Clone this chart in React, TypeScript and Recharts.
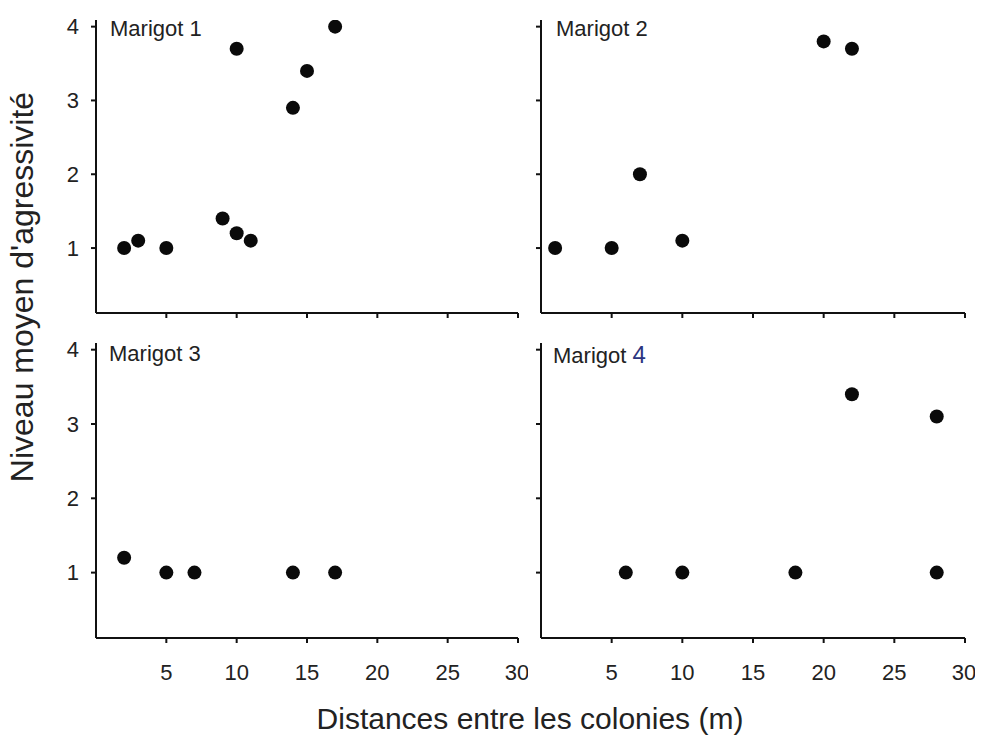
import React from 'react';
import { ScatterChart, Scatter, XAxis, YAxis } from 'recharts';

const xTicks = [5, 10, 15, 20, 25, 30];
const yTicks = [1, 2, 3, 4];
const panelTitles = ['Marigot 1', 'Marigot 2', 'Marigot 3', 'Marigot '];

const m1Distance = [2, 3, 5, 9, 10, 11, 10, 14, 15, 17];
const m1Aggressivity = [1, 1.1, 1, 1.4, 1.2, 1.1, 3.7, 2.9, 3.4, 4];

const m2Distance = [1, 5, 7, 10, 20, 22];
const m2Aggressivity = [1, 1, 2, 1.1, 3.8, 3.7];

const m3Distance = [2, 5, 7, 14, 17];
const m3Aggressivity = [1.2, 1, 1, 1, 1];

const m4Distance = [6, 10, 18, 28, 22, 28];
const m4Aggressivity = [1, 1, 1, 1, 3.4, 3.1];

const build = (xs: number[], ys: number[]) => xs.map((x, i) => ({ x, y: ys[i] }));

const FONT = '"Liberation Sans", Arial, Helvetica, sans-serif';
const AXIS = '#111';
const TEXT = '#222';

const Dot = (props: any) => <circle cx={props.cx} cy={props.cy} r={7} fill="#0a0a0a" />;

type PanelProps = {
  data: { x: number; y: number }[];
  left: number;
  top: number;
  width: number;
  height: number;
  showYLabels: boolean;
  showXLabels: boolean;
};

function Panel({ data, left, top, width, height, showYLabels, showXLabels }: PanelProps) {
  return (
    <div style={{ position: 'absolute', left, top, width, height }}>
      <ScatterChart width={width} height={height} margin={{ top: 20, right: 10, bottom: 0, left: 0 }}>
        <XAxis
          type="number"
          dataKey="x"
          domain={[0, 30]}
          ticks={xTicks}
          allowDataOverflow
          height={showXLabels ? 62 : 17}
          axisLine={{ stroke: AXIS, strokeWidth: 2 }}
          tickLine={{ stroke: AXIS, strokeWidth: 2 }}
          tickSize={5}
          tickMargin={21}
          tick={{ fill: TEXT, fontSize: 22, fontFamily: FONT }}
          tickFormatter={(v: number) => (showXLabels ? String(v) : '')}
        />
        <YAxis
          type="number"
          dataKey="y"
          domain={[0.12, 4.09]}
          ticks={yTicks}
          allowDataOverflow
          width={96}
          axisLine={{ stroke: AXIS, strokeWidth: 2 }}
          tickLine={{ stroke: AXIS, strokeWidth: 2 }}
          tickSize={5}
          tickMargin={12}
          tick={{ fill: TEXT, fontSize: 22, fontFamily: FONT }}
          tickFormatter={(v: number) => (showYLabels ? String(v) : '')}
        />
        <Scatter data={data} shape={Dot} isAnimationActive={false} />
      </ScatterChart>
    </div>
  );
}

export default function App() {
  return (
    <div style={{ position: 'absolute', left: 0, top: 0, width: 982, height: 742, background: '#fff', overflow: 'hidden' }}>
      <Panel data={build(m1Distance, m1Aggressivity)} left={0} top={0} width={528} height={330} showYLabels showXLabels={false} />
      <Panel data={build(m2Distance, m2Aggressivity)} left={445} top={0} width={530} height={330} showYLabels={false} showXLabels={false} />
      <Panel data={build(m3Distance, m3Aggressivity)} left={0} top={323} width={528} height={377} showYLabels showXLabels />
      <Panel data={build(m4Distance, m4Aggressivity)} left={445} top={323} width={530} height={377} showYLabels={false} showXLabels />
      <svg width={982} height={742} style={{ position: 'absolute', left: 0, top: 0, pointerEvents: 'none' }}>
        <text x={110} y={36} fontSize={22} fontFamily={FONT} fill={TEXT}>{panelTitles[0]}</text>
        <text x={556} y={36} fontSize={22} fontFamily={FONT} fill={TEXT}>{panelTitles[1]}</text>
        <text x={109} y={361} fontSize={22} fontFamily={FONT} fill={TEXT}>{panelTitles[2]}</text>
        <text x={553} y={363} fontSize={22} fontFamily={FONT} fill={TEXT}>
          {panelTitles[3]}
          <tspan fill="#2b3580" fontSize={24}>4</tspan>
        </text>
        <text
          x={0}
          y={0}
          transform="translate(33, 287) rotate(-90)"
          textAnchor="middle"
          fontSize={32}
          fontFamily={FONT}
          fill={TEXT}
        >
          Niveau moyen d'agressivité
        </text>
        <text x={530} y={729} textAnchor="middle" fontSize={30} fontFamily={FONT} fill={TEXT}>
          Distances entre les colonies (m)
        </text>
      </svg>
    </div>
  );
}
